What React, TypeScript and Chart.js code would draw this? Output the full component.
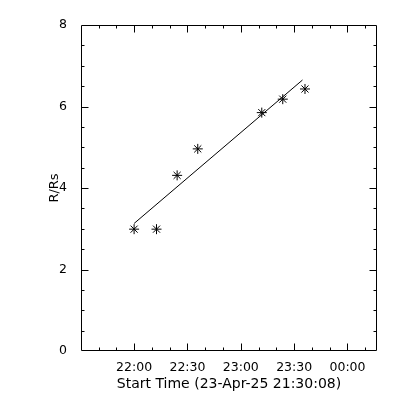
import React, { useEffect, useRef } from "react";
import { Chart, registerables } from "chart.js";

Chart.register(...registerables);

// Time in minutes since 00:00 on 23-Apr-25
const obsTimes = [1320, 1332.6, 1344.2, 1355.8, 1391.8, 1403.6, 1416.1];
const obsHeights = [2.99, 2.99, 4.31, 4.96, 5.85, 6.18, 6.43];
const fitTimes = [1320, 1414.7];
const fitHeights = [3.13, 6.65];
const xTickValues = [1320, 1350, 1380, 1410, 1440];
const xTickLabels = ["22:00", "22:30", "23:00", "23:30", "00:00"];
const yTickValues = [0, 2, 4, 6, 8];
const xMin = 1290.133;
const xMax = 1456.6;
const xTitle = "Start Time (23-Apr-25 21:30:08)";
const yTitle = "R/Rs";

const FONT = "'DejaVu Sans', sans-serif";

const frameTicks = {
  id: "frameTicks",
  afterDraw(chart: any) {
    const ctx = chart.ctx;
    const a = chart.chartArea;
    const xs = chart.scales.x;
    const ys = chart.scales.y;
    const L = Math.round(a.left) + 0.5;
    const R = Math.round(a.right) - 0.5;
    const T = Math.round(a.top) + 0.5;
    const B = Math.round(a.bottom) - 0.5;
    ctx.save();
    ctx.strokeStyle = "#000";
    ctx.lineWidth = 1;
    ctx.beginPath();
    ctx.rect(L, T, R - L, B - T);
    // x ticks every 10 min, majors every 30 min
    for (let m = 1300; m <= xMax; m += 10) {
      if (m < xMin) continue;
      const px = Math.round(xs.getPixelForValue(m)) + 0.5;
      const len = (m - 1320) % 30 === 0 ? 7 : 3;
      ctx.moveTo(px, B);
      ctx.lineTo(px, B - len);
      ctx.moveTo(px, T);
      ctx.lineTo(px, T + len);
    }
    for (let v = 0.5; v < 8; v += 0.5) {
      const py = Math.round(ys.getPixelForValue(v)) + 0.5;
      const len = v % 2 === 0 ? 7 : 3;
      ctx.moveTo(L, py);
      ctx.lineTo(L + len, py);
      ctx.moveTo(R, py);
      ctx.lineTo(R - len, py);
    }
    ctx.stroke();
    ctx.restore();
  },
};

export default function App() {
  const ref = useRef<HTMLCanvasElement | null>(null);
  useEffect(() => {
    if (!ref.current) return;
    const chart = new Chart(ref.current, {
      type: "scatter",
      data: {
        datasets: [
          {
            type: "scatter",
            data: obsTimes.map((t, i) => ({ x: t, y: obsHeights[i] })),
            pointStyle: "star",
            pointRadius: 5,
            borderColor: "#000",
            backgroundColor: "#000",
            pointBorderWidth: 1,
          } as any,
          {
            type: "line",
            data: fitTimes.map((t, i) => ({ x: t, y: fitHeights[i] })),
            borderColor: "#000",
            borderWidth: 1,
            pointRadius: 0,
            showLine: true,
            fill: false,
          } as any,
        ],
      },
      options: {
        animation: false,
        responsive: false,
        devicePixelRatio: 1,
        layout: { padding: { top: 25, right: 23, left: 0, bottom: 0 } },
        plugins: { legend: { display: false }, tooltip: { enabled: false } },
        scales: {
          x: {
            type: "linear",
            min: xMin,
            max: xMax,
            grid: { display: false },
            border: { display: false },
            afterBuildTicks: (s: any) => {
              s.ticks = xTickValues.map((v) => ({ value: v }));
            },
            afterFit: (s: any) => {
              s.height = 49;
            },
            ticks: {
              color: "#000",
              padding: 1,
              maxRotation: 0,
              autoSkip: false,
              font: { family: FONT, size: 12.5 },
              callback: (v: any) => {
                const i = xTickValues.indexOf(Number(v));
                return i >= 0 ? xTickLabels[i] : "";
              },
            },
            title: {
              display: true,
              text: xTitle,
              color: "#000",
              font: { family: FONT, size: 14 },
              padding: { top: 0, bottom: 7 },
            },
          },
          y: {
            type: "linear",
            min: 0,
            max: 8,
            grid: { display: false },
            border: { display: false },
            afterBuildTicks: (s: any) => {
              s.ticks = yTickValues.map((v) => ({ value: v }));
            },
            afterFit: (s: any) => {
              s.width = 81;
            },
            ticks: {
              color: "#000",
              padding: 6,
              font: { family: FONT, size: 12.5 },
            },
            title: {
              display: true,
              text: yTitle,
              color: "#000",
              font: { family: FONT, size: 13 },
              padding: { top: 47, bottom: 0 },
            },
          },
        },
      },
      plugins: [frameTicks],
    });
    return () => chart.destroy();
  }, []);
  return (
    <div
      style={{
        position: "fixed",
        left: 0,
        top: 0,
        width: 400,
        height: 400,
        background: "#fff",
      }}
    >
      <canvas ref={ref} width={400} height={400} style={{ display: "block" }} />
    </div>
  );
}
